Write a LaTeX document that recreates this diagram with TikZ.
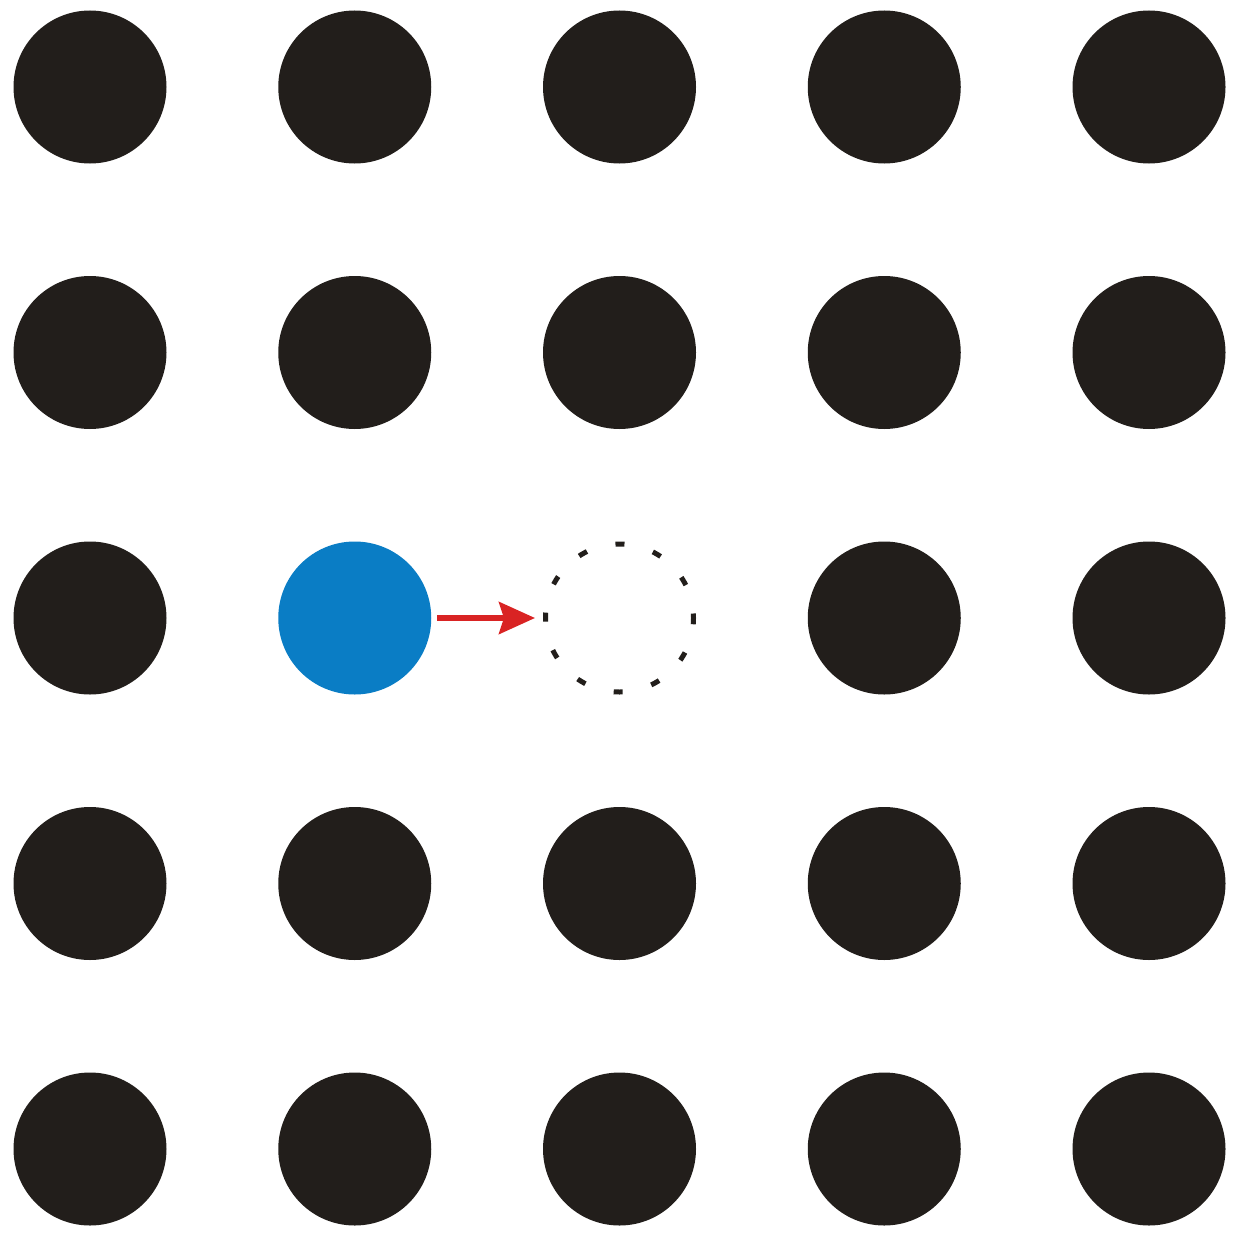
\documentclass[tikz,border=0pt]{standalone}
\usetikzlibrary{arrows.meta}
\definecolor{dotblack}{HTML}{221E1B}
\definecolor{dotblue}{HTML}{0A7DC5}
\definecolor{arrowred}{HTML}{D92323}
\tikzset{
  dot/.style={circle, fill=dotblack, draw=none, minimum size=153pt, inner sep=0pt},
  bluedot/.style={circle, fill=dotblue, draw=none, minimum size=153pt, inner sep=0pt},
  vacancy/.style={circle, draw=dotblack, line width=5pt, dash pattern=on 9pt off 29.6pt, dash phase=4.5pt, minimum size=148pt, inner sep=0pt},
  jump/.style={draw=arrowred, line width=5.5pt, -{Stealth[length=36pt,width=32pt,inset=5pt]}, shorten >=0pt}
}
\begin{document}
\begin{tikzpicture}[x=1pt,y=-1pt]
\useasboundingbox (0,0) rectangle (1236,1239);
\foreach \i in {0,...,4}{
  \foreach \j in {0,...,4}{
    \pgfmathsetmacro{\cx}{90+264.75*\i}
    \pgfmathsetmacro{\cy}{87+265.5*\j}
    \ifnum\j=2
      \ifnum\i=1
        \node[bluedot] (d\i\j) at (\cx,\cy) {};
      \else\ifnum\i=2
        \node[vacancy] (d\i\j) at (\cx,\cy) {};
      \else
        \node[dot] (d\i\j) at (\cx,\cy) {};
      \fi\fi
    \else
      \node[dot] (d\i\j) at (\cx,\cy) {};
    \fi
  }
}
\draw[jump] ([xshift=6pt]d12.east) -- ([xshift=-8pt]d22.west);
\end{tikzpicture}
\end{document}
